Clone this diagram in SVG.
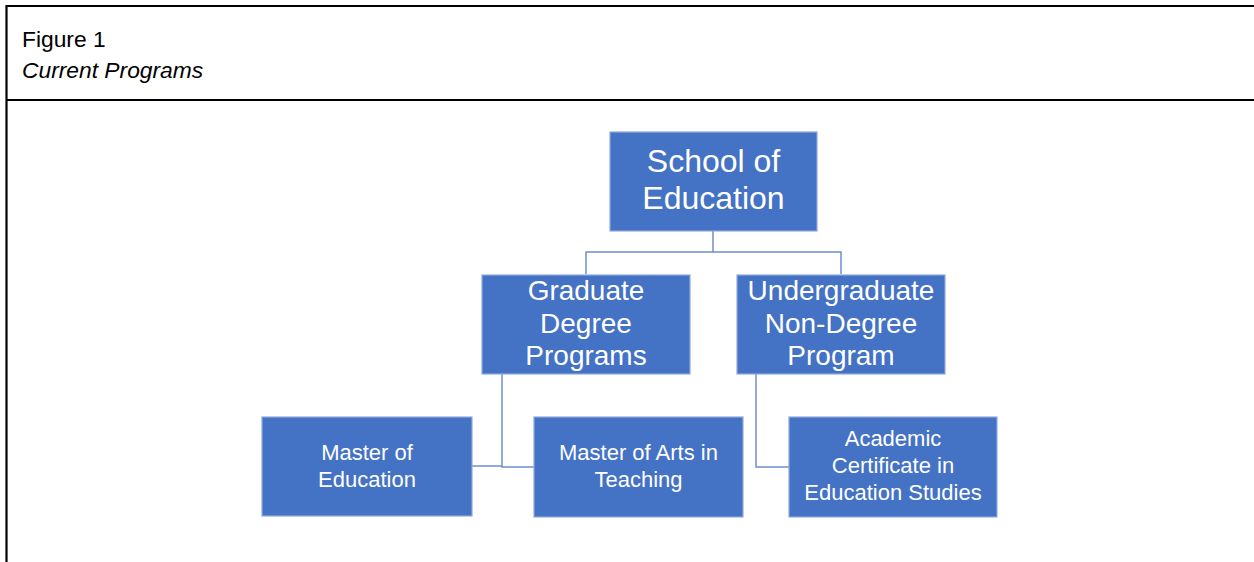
<svg xmlns="http://www.w3.org/2000/svg" width="1254" height="562" viewBox="0 0 1254 562">
<style>
.frame{stroke:#000;stroke-width:2.2;fill:none}
.box{fill:#4472C4;stroke:#8FAADC;stroke-width:1.2}
.wt{fill:#fff;font-family:"Liberation Sans",Arial,sans-serif;text-anchor:middle}
.hd{fill:#000;font-family:"Liberation Sans",Arial,sans-serif;font-size:22.8px}
.conn{stroke:#6F8FCB;stroke-width:1.5;fill:none}
</style>
<rect width="1254" height="562" fill="#fff"/>
<g id="frame">
<line class="frame" x1="6" y1="6" x2="1254" y2="6"/>
<line class="frame" x1="6" y1="100" x2="1254" y2="100"/>
<line class="frame" x1="6.5" y1="5" x2="6.5" y2="562"/>
<text class="hd" x="22" y="47">Figure 1</text>
<text class="hd" x="22" y="78" font-style="italic" font-size="23.8">Current Programs</text>
</g>
<g id="connectors">
<polyline class="conn" points="713,231 713,252"/>
<polyline class="conn" points="586,274 586,252 841,252 841,274"/>
<polyline class="conn" points="502,374 502,467 534,467"/>
<polyline class="conn" points="472,466 502,466"/>
<polyline class="conn" points="756,374 756,467 789,467"/>
</g>
<g id="school">
<rect class="box" x="610" y="132" width="207" height="99"/>
<text class="wt" font-size="32" x="713.5" y="172">School of</text>
<text class="wt" font-size="32" x="713.5" y="209">Education</text>
</g>
<g id="graduate">
<rect class="box" x="482" y="275" width="208" height="99"/>
<text class="wt" font-size="28" x="586" y="300">Graduate</text>
<text class="wt" font-size="28" x="586" y="333">Degree</text>
<text class="wt" font-size="28" x="586" y="365">Programs</text>
</g>
<g id="undergraduate">
<rect class="box" x="737" y="275" width="208" height="99"/>
<text class="wt" font-size="28" x="841" y="300">Undergraduate</text>
<text class="wt" font-size="28" x="841" y="333">Non-Degree</text>
<text class="wt" font-size="28" x="841" y="365">Program</text>
</g>
<g id="med">
<rect class="box" x="262" y="417" width="210" height="99"/>
<text class="wt" font-size="22" x="367" y="460">Master of</text>
<text class="wt" font-size="22" x="367" y="487">Education</text>
</g>
<g id="mat">
<rect class="box" x="534" y="417" width="209" height="100"/>
<text class="wt" font-size="22" x="638.5" y="460">Master of Arts in</text>
<text class="wt" font-size="22" x="638.5" y="487">Teaching</text>
</g>
<g id="cert">
<rect class="box" x="789" y="417" width="208" height="100"/>
<text class="wt" font-size="22" x="893" y="446">Academic</text>
<text class="wt" font-size="22" x="893" y="473">Certificate in</text>
<text class="wt" font-size="22" x="893" y="500">Education Studies</text>
</g>
</svg>
